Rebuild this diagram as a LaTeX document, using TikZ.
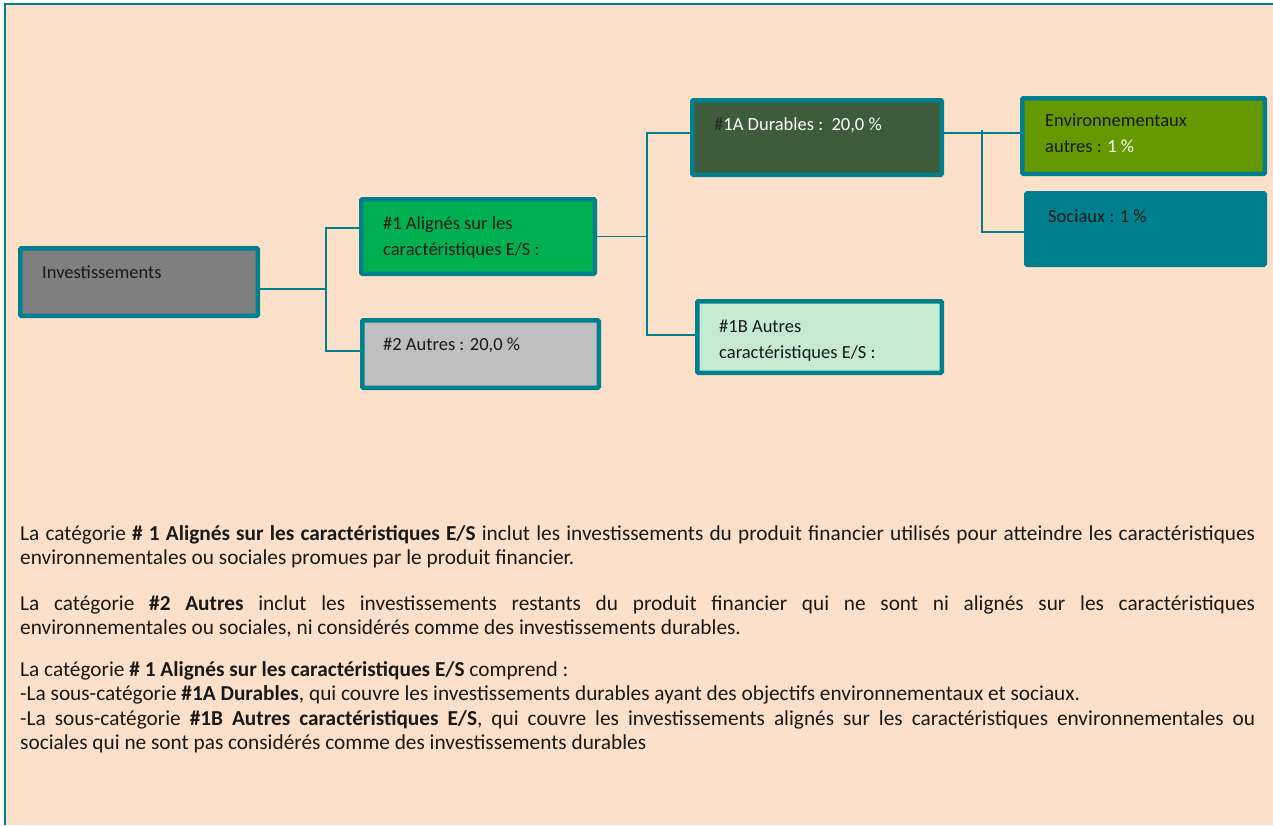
\documentclass[tikz,border=0pt]{standalone}
\usepackage{fontspec}
\setmainfont{Carlito}
\usepackage{xcolor}
\definecolor{bgpeach}{HTML}{FDE0C9}
\definecolor{tealbd}{HTML}{007F8F}
\definecolor{invgray}{HTML}{7F7F7F}
\definecolor{algreen}{HTML}{00B050}
\definecolor{autgray}{HTML}{BFBFBF}
\definecolor{durgreen}{HTML}{3E5C3B}
\definecolor{othgreen}{HTML}{C6EAD0}
\definecolor{envolive}{HTML}{669900}
\hyphenpenalty=10000
\exhyphenpenalty=10000

\tikzset{
  box/.style={draw=tealbd, line width=4.5pt, rounded corners=1pt, anchor=north west, inner sep=0pt},
  boxtext/.style={anchor=base west, inner sep=0pt, align=left, text=black!90, font=\fontsize{18.5}{26}\selectfont},
  bodytext/.style={anchor=base west, inner sep=0pt, text width=1235pt, align=justify, text=black!90, font=\fontsize{21.3}{24.5}\selectfont},
  conn/.style={draw=tealbd, line width=1.5pt}
}

\begin{document}
\begin{tikzpicture}[x=1pt,y=-1pt]
\useasboundingbox (0,0) rectangle (1273,825);
\fill[white] (0,0) rectangle (1273,825);
\fill[bgpeach] (5,4) rectangle (1273,825);
\draw[tealbd, line width=1.5pt] (5,825) -- (5,4) -- (1273,4);

% boxes
\node[box, fill=invgray, minimum width=237.5pt, minimum height=67.5pt] (inv) at (18,246) {};
\node[box, fill=algreen, minimum width=233.5pt, minimum height=74.5pt] (al) at (359,197) {};
\node[box, fill=autgray, minimum width=236.5pt, minimum height=67.5pt] (aut) at (360,318) {};
\node[box, fill=durgreen, minimum width=249.5pt, minimum height=74.5pt] (dur) at (690,98) {};
\node[box, fill=othgreen, minimum width=244.5pt, minimum height=71.5pt] (oth) at (695,299) {};
\node[box, fill=envolive, minimum width=242.5pt, minimum height=75.5pt] (env) at (1020,96) {};
\node[box, fill=tealbd, minimum width=238.5pt, minimum height=71.5pt] (soc) at (1024,191) {};

% box texts (two-line ones sit on their last line)
\node[boxtext] (inv-t) at (42,278) {Investissements};
\node[boxtext] (al-t) at (383,255) {\#1 Alignés sur les\\caractéristiques E/S :};
\node[boxtext] (aut-t) at (383,350) {\#2 Autres : 20,0 \%};
\node[boxtext, text=white] (dur-t) at (714,130) {{\color{black!85}\#}1A Durables :\ \ 20,0 \%};
\node[boxtext] (oth-t) at (719,358) {\#1B Autres\\caractéristiques E/S :};
\node[boxtext] (env-t) at (1045,152) {Environnementaux\\autres : {\color{white}1 \%}};
\node[boxtext] (soc-t) at (1048,222) {Sociaux : 1 \%};

% connectors
\coordinate (b0) at (326,289);
\coordinate (b1) at (326,228);
\coordinate (b2) at (326,351);
\draw[conn] (inv.east |- b0) -- (b0);
\draw[conn] (al.west |- b1) -- (b1) -- (b2) -- (aut.west |- b2);

\coordinate (b3) at (647,133);
\coordinate (b4) at (647,335);
\draw[conn] (al.east) -- (al.east -| b3);
\draw[conn] (dur.west |- b3) -- (b3) -- (b4) -- (oth.west |- b4);

\coordinate (b5) at (982,130);
\coordinate (b6) at (982,232);
\draw[conn] (dur.east |- b3) -- (env.west |- b3);
\draw[conn] (b5) -- (b6) -- (soc.west |- b6);

% explanations
\node[bodytext] (p1) at (20,540) {La catégorie \textbf{\# 1 Alignés sur les caractéristiques E/S} inclut les investissements du produit financier utilisés pour atteindre les caractéristiques\linebreak environnementales ou sociales promues par le produit financier.};
\node[bodytext] (p2) at (20,610) {La catégorie \textbf{\#2 Autres} inclut les investissements restants du produit financier qui ne sont ni alignés sur les caractéristiques\linebreak environnementales ou sociales, ni considérés comme des investissements durables.};
\node[bodytext] (p3) at (20,676) {La catégorie \textbf{\# 1 Alignés sur les caractéristiques E/S} comprend~:\\
-{}La sous-catégorie \textbf{\#1A Durables}, qui couvre les investissements durables ayant des objectifs environnementaux et sociaux.\\
-{}La sous-catégorie \textbf{\#1B Autres caractéristiques E/S}, qui couvre les investissements alignés sur les caractéristiques environnementales ou\linebreak sociales qui ne sont pas considérés comme des investissements durables};
\end{tikzpicture}
\end{document}
